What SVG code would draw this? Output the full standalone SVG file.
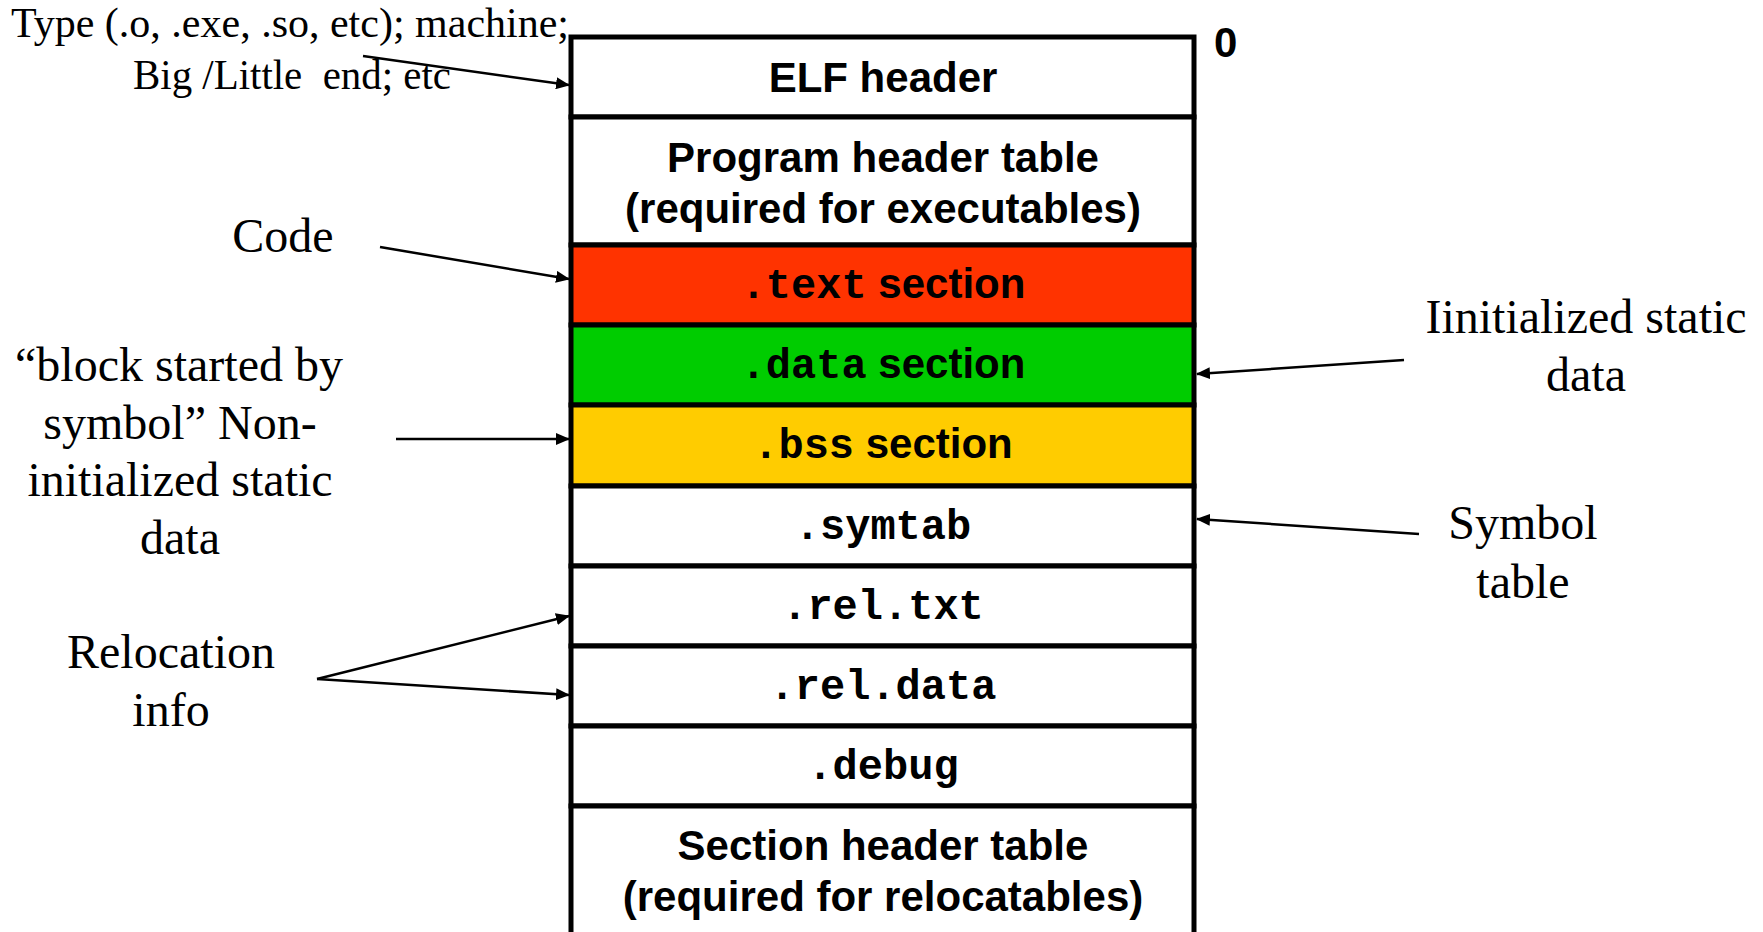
<svg xmlns="http://www.w3.org/2000/svg" width="1763" height="932" viewBox="0 0 1763 932">
  <style>
    .row { stroke: #000; stroke-width: 5; }
    .sans { font-family: "Liberation Sans", Arial, sans-serif; font-weight: bold; font-size: 42px; fill: #000; }
    .mono { font-family: "Liberation Mono", "Courier New", monospace; font-weight: bold; font-size: 42px; fill: #000; }
    .note { font-family: "Liberation Serif", "Times New Roman", serif; font-size: 48px; fill: #000; }
    .note-sm { font-family: "Liberation Serif", "Times New Roman", serif; font-size: 42px; fill: #000; }
    .link { stroke: #000; stroke-width: 2.5; fill: none; marker-end: url(#head); }
  </style>
  <defs>
    <marker id="head" markerWidth="14" markerHeight="12" refX="13" refY="6" orient="auto" markerUnits="userSpaceOnUse">
      <path d="M0,0 L14,6 L0,12 Z" fill="#000"/>
    </marker>
  </defs>
  <rect width="1763" height="932" fill="#fff"/>

  <!-- ELF file layout, one row per part -->
  <g id="elf-header">
    <rect class="row" x="571" y="37" width="623" height="80" fill="#fff"/>
    <text class="sans" x="883" y="92" text-anchor="middle">ELF header</text>
  </g>
  <g id="program-header-table">
    <rect class="row" x="571" y="117" width="623" height="128" fill="#fff"/>
    <text class="sans" x="883" y="172" text-anchor="middle">Program header table</text>
    <text class="sans" x="883" y="223" text-anchor="middle">(required for executables)</text>
  </g>
  <g id="text-section">
    <rect class="row" x="571" y="245" width="623" height="80" fill="#ff3300"/>
    <text x="883" y="298" text-anchor="middle"><tspan class="mono">.text</tspan><tspan class="sans"> section</tspan></text>
  </g>
  <g id="data-section">
    <rect class="row" x="571" y="325" width="623" height="80" fill="#00cc00"/>
    <text x="883" y="378" text-anchor="middle"><tspan class="mono">.data</tspan><tspan class="sans"> section</tspan></text>
  </g>
  <g id="bss-section">
    <rect class="row" x="571" y="405" width="623" height="81" fill="#ffcc00"/>
    <text x="883" y="458" text-anchor="middle"><tspan class="mono">.bss</tspan><tspan class="sans"> section</tspan></text>
  </g>
  <g id="symtab">
    <rect class="row" x="571" y="486" width="623" height="80" fill="#fff"/>
    <text class="mono" x="883" y="539" text-anchor="middle">.symtab</text>
  </g>
  <g id="rel-txt">
    <rect class="row" x="571" y="566" width="623" height="80" fill="#fff"/>
    <text class="mono" x="883" y="619" text-anchor="middle">.rel.txt</text>
  </g>
  <g id="rel-data">
    <rect class="row" x="571" y="646" width="623" height="80" fill="#fff"/>
    <text class="mono" x="883" y="699" text-anchor="middle">.rel.data</text>
  </g>
  <g id="debug">
    <rect class="row" x="571" y="726" width="623" height="80" fill="#fff"/>
    <text class="mono" x="883" y="779" text-anchor="middle">.debug</text>
  </g>
  <g id="section-header-table">
    <rect class="row" x="571" y="806" width="623" height="150" fill="#fff"/>
    <text class="sans" x="883" y="860" text-anchor="middle">Section header table</text>
    <text class="sans" x="883" y="911" text-anchor="middle">(required for relocatables)</text>
  </g>
  <g id="offset-zero">
    <text class="sans" x="1214" y="57">0</text>
  </g>

  <!-- Annotations -->
  <g id="note-type">
    <text class="note-sm" x="11" y="37">Type (.o, .exe, .so, etc); machine;</text>
    <text class="note-sm" x="133" y="89" xml:space="preserve" textLength="318" lengthAdjust="spacingAndGlyphs">Big /Little  end; etc</text>
  </g>
  <g id="note-code">
    <text class="note" x="283" y="252" text-anchor="middle">Code</text>
  </g>
  <g id="note-bss">
    <text class="note" x="179" y="381" text-anchor="middle">“block started by</text>
    <text class="note" x="180" y="439" text-anchor="middle">symbol” Non-</text>
    <text class="note" x="180" y="496" text-anchor="middle">initialized static</text>
    <text class="note" x="180" y="554" text-anchor="middle">data</text>
  </g>
  <g id="note-relocation">
    <text class="note" x="171" y="668" text-anchor="middle">Relocation</text>
    <text class="note" x="171" y="726" text-anchor="middle">info</text>
  </g>
  <g id="note-data">
    <text class="note" x="1586" y="333" text-anchor="middle">Iinitialized static</text>
    <text class="note" x="1586" y="391" text-anchor="middle">data</text>
  </g>
  <g id="note-symtab">
    <text class="note" x="1523" y="539" text-anchor="middle">Symbol</text>
    <text class="note" x="1523" y="598" text-anchor="middle">table</text>
  </g>

  <!-- Connectors -->
  <g id="connectors">
    <line class="link" x1="363" y1="56" x2="569" y2="85"/>
    <line class="link" x1="380" y1="247" x2="569" y2="279"/>
    <line class="link" x1="396" y1="439" x2="569" y2="439"/>
    <line class="link" x1="317" y1="679" x2="569" y2="616"/>
    <line class="link" x1="317" y1="679" x2="569" y2="695"/>
    <line class="link" x1="1404" y1="360" x2="1197" y2="374"/>
    <line class="link" x1="1419" y1="534" x2="1197" y2="519"/>
  </g>
</svg>
